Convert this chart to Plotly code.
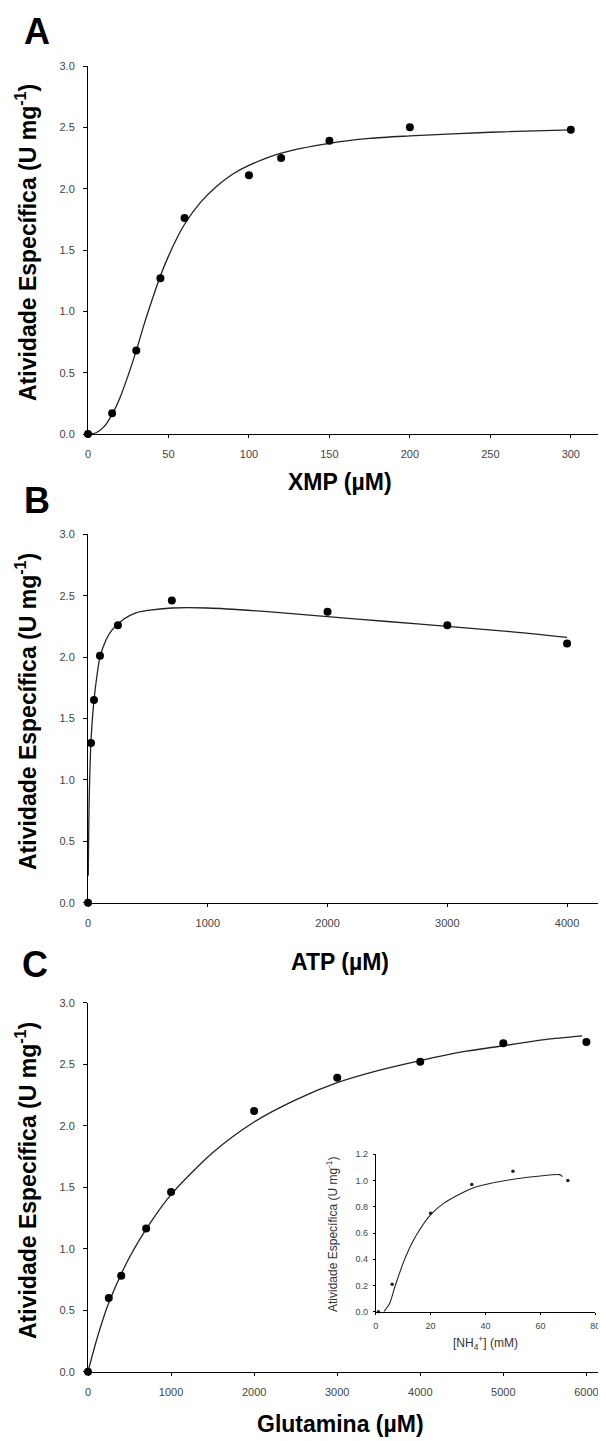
import plotly.graph_objects as go

# ---------------- data ----------------
# Panel A: XMP
xmp_x = [0, 15, 30, 45, 60, 100, 120, 150, 200, 300]
xmp_y = [0.0, 0.17, 0.68, 1.27, 1.76, 2.11, 2.25, 2.39, 2.50, 2.48]
xmp_fit_x = [0, 5, 10, 15, 20, 25, 30, 35, 40, 45, 50, 55, 60, 70, 80, 90, 100, 120, 150, 175, 200, 250, 300]
xmp_fit_y = [0.0, 0.01, 0.06, 0.16, 0.30, 0.48, 0.68, 0.90, 1.10, 1.29, 1.45, 1.59, 1.71, 1.89, 2.02, 2.12, 2.19, 2.29, 2.37, 2.41, 2.43, 2.46, 2.48]

# Panel B: ATP
atp_x = [0, 25, 50, 100, 250, 700, 2000, 3000, 4000]
atp_y = [0.0, 1.30, 1.65, 2.01, 2.26, 2.46, 2.37, 2.26, 2.11]
atp_fit_x = [2, 5, 10, 20, 30, 50, 75, 100, 150, 200, 300, 400, 500, 700, 1000, 1500, 2000, 2500, 3000, 3500, 4000]
atp_fit_y = [0.22, 0.50, 0.85, 1.20, 1.40, 1.65, 1.85, 2.00, 2.14, 2.22, 2.31, 2.36, 2.38, 2.40, 2.40, 2.37, 2.33, 2.29, 2.25, 2.21, 2.16]

# Panel C: Glutamina
gln_x = [0, 250, 400, 700, 1000, 2000, 3000, 4000, 5000, 6000]
gln_y = [0.0, 0.60, 0.78, 1.165, 1.46, 2.12, 2.39, 2.52, 2.67, 2.68]
gln_fit_x = [0, 100, 250, 500, 750, 1000, 1500, 2000, 2500, 3000, 3500, 4000, 4500, 5000, 5500, 5950]
gln_fit_y = [0.0, 0.25, 0.56, 0.93, 1.21, 1.44, 1.78, 2.03, 2.21, 2.35, 2.45, 2.53, 2.60, 2.65, 2.70, 2.73]

# Inset: NH4+
nh4_x = [1, 6, 20, 35, 50, 70]
nh4_y = [0.0, 0.21, 0.75, 0.97, 1.07, 1.00]
nh4_fit_x = [3, 5, 7, 10, 12, 15, 20, 25, 30, 35, 40, 50, 60, 67, 68]
nh4_fit_y = [0.0, 0.06, 0.19, 0.37, 0.47, 0.59, 0.74, 0.83, 0.89, 0.94, 0.97, 1.01, 1.035, 1.045, 1.03]

main_yticks = [0.0, 0.5, 1.0, 1.5, 2.0, 2.5, 3.0]
xmp_ticks = [0, 50, 100, 150, 200, 250, 300]
atp_ticks = [0, 1000, 2000, 3000, 4000]
gln_ticks = [0, 1000, 2000, 3000, 4000, 5000, 6000]
ins_xticks = [0, 20, 40, 60, 80]
ins_yticks = [0.0, 0.2, 0.4, 0.6, 0.8, 1.0, 1.2]

Y_TITLE = "Atividade Específica (U mg<sup>-1</sup>)"

# ---------------- layout helpers ----------------
W, H = 606, 1441
OFF = 8  # page body margin offset of the rendered figure
FONT = "Liberation Sans, Arial, sans-serif"


def fx(px):
    return (px - OFF) / W


def fy(py):
    return 1 - (py - OFF) / H


fig = go.Figure()

marker_main = dict(color="black", size=8, symbol="circle")
line_main = dict(color="#222222", width=1.3, shape="spline", smoothing=0.8)

panels = [
    ("x", "y", xmp_x, xmp_y, xmp_fit_x, xmp_fit_y),
    ("x2", "y2", atp_x, atp_y, atp_fit_x, atp_fit_y),
    ("x3", "y3", gln_x, gln_y, gln_fit_x, gln_fit_y),
]
for xa, ya, px_, py_, fx_, fy_ in panels:
    fig.add_trace(go.Scatter(x=fx_, y=fy_, mode="lines", line=line_main,
                             xaxis=xa, yaxis=ya, showlegend=False, cliponaxis=False))
    fig.add_trace(go.Scatter(x=px_, y=py_, mode="markers", marker=marker_main,
                             xaxis=xa, yaxis=ya, showlegend=False, cliponaxis=False))

fig.add_trace(go.Scatter(x=nh4_fit_x, y=nh4_fit_y, mode="lines",
                         line=dict(color="#222222", width=1.1, shape="spline", smoothing=0.8),
                         xaxis="x4", yaxis="y4", showlegend=False, cliponaxis=False))
fig.add_trace(go.Scatter(x=nh4_x, y=nh4_y, mode="markers",
                         marker=dict(color="#222222", size=3.5, symbol="circle"),
                         xaxis="x4", yaxis="y4", showlegend=False, cliponaxis=False))

tickfont = dict(family=FONT, size=11, color="#444444")
tickfont_small = dict(family=FONT, size=9, color="#444444")


def xax(domain, rng, ticks, anchor, small=False):
    return dict(domain=domain, range=rng, tickvals=ticks, ticktext=[str(t) for t in ticks],
                anchor=anchor, showline=True, linecolor="black", linewidth=1,
                ticks="outside", ticklen=3 if not small else 2, tickcolor="black",
                showgrid=False, zeroline=False, automargin=False,
                tickfont=tickfont_small if small else tickfont,
                ticklabelstandoff=7 if not small else 3, fixedrange=True)


def yax(domain, rng, ticks, anchor, small=False):
    return dict(domain=domain, range=rng, tickvals=ticks, ticktext=["%.1f" % t for t in ticks],
                anchor=anchor, showline=True, linecolor="black", linewidth=1,
                ticks="outside", ticklen=4 if not small else 2, tickcolor="black",
                showgrid=False, zeroline=False, automargin=False,
                tickfont=tickfont_small if small else tickfont,
                ticklabelstandoff=6 if not small else 3, fixedrange=True)


X0, X1 = 88, 603
fig.update_layout(
    width=W, height=H,
    margin=dict(l=0, r=0, t=0, b=0, pad=0, autoexpand=False),
    paper_bgcolor="white", plot_bgcolor="rgba(0,0,0,0)",
    xaxis=xax([fx(X0), fx(X1)], [0, 320], xmp_ticks, "y"),
    yaxis=yax([fy(434), fy(66)], [0, 3.0], main_yticks, "x"),
    xaxis2=xax([fx(X0), fx(X1)], [0, 4300], atp_ticks, "y2"),
    yaxis2=yax([fy(902.7), fy(534.3)], [0, 3.0], main_yticks, "x2"),
    xaxis3=xax([fx(X0), fx(X1)], [0, 6200], gln_ticks, "y3"),
    yaxis3=yax([fy(1371.7), fy(1002.7)], [0, 3.0], main_yticks, "x3"),
    xaxis4=xax([fx(375.7), fx(595.3)], [0, 80], ins_xticks, "y4", small=True),
    yaxis4=yax([fy(1311.7), fy(1154.3)], [0, 1.2], ins_yticks, "x4", small=True),
)

ann = []
title_font = dict(family=FONT, size=23, color="black")
label_font = dict(family=FONT, size=36, color="black")


def text(x, y, s, font, angle=0):
    ann.append(dict(x=fx(x), y=fy(y), xref="paper", yref="paper", text=s, showarrow=False,
                    xanchor="center", yanchor="middle", textangle=angle, font=font))


# panel letters
text(37, 31, "<b>A</b>", label_font)
text(37, 500, "<b>B</b>", label_font)
text(35, 964, "<b>C</b>", label_font)

# x titles
text(340, 482, "<b>XMP (µM)</b>", title_font)
text(340, 962, "<b>ATP (µM)</b>", title_font)
text(340, 1424, "<b>Glutamina (µM)</b>", title_font)

# y titles
text(26, 243, "<b>" + Y_TITLE + "</b>", title_font, -90)
text(26, 712, "<b>" + Y_TITLE + "</b>", title_font, -90)
text(26, 1181, "<b>" + Y_TITLE + "</b>", title_font, -90)

# inset titles
small_title = dict(family=FONT, size=12, color="#333333")
text(332, 1234, Y_TITLE, small_title, -90)
text(485, 1343, "[NH<sub>4</sub><sup>+</sup>] (mM)", small_title)

fig.update_layout(annotations=ann)
fig.write_html("out.html")
